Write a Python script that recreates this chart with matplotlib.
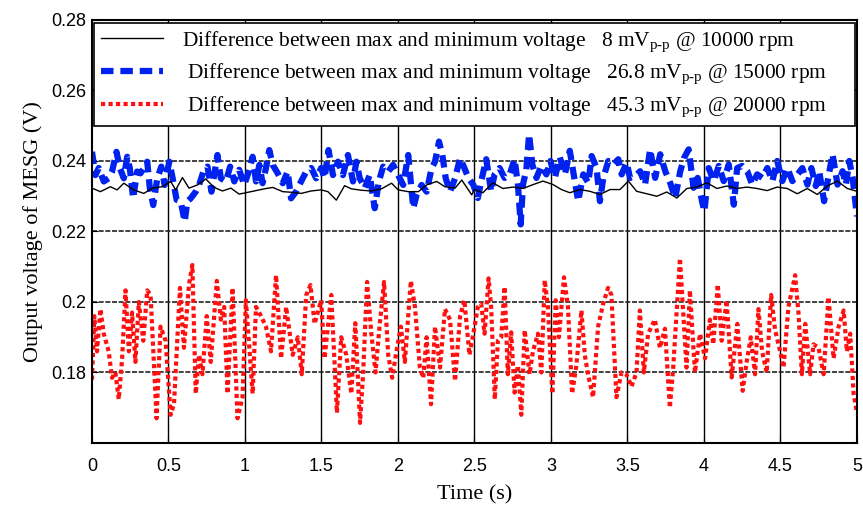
import matplotlib
matplotlib.use("Agg")
import matplotlib.pyplot as plt

plt.rcParams['mathtext.fontset'] = 'custom'
plt.rcParams['mathtext.rm'] = 'Liberation Serif'
plt.rcParams['mathtext.it'] = 'Liberation Serif:italic'

# ---- data ----
t_black = [0.000, 0.055, 0.120, 0.164, 0.208, 0.273, 0.339, 0.394, 0.459, 0.514,
           0.547, 0.591, 0.634, 0.689, 0.744, 0.798, 0.853, 0.908, 0.962, 1.017,
           1.061, 1.126, 1.181, 1.247, 1.312, 1.367, 1.433, 1.498, 1.542, 1.597,
           1.651, 1.695, 1.761, 1.826, 1.892, 1.958, 2.001, 2.067, 2.133, 2.187,
           2.253, 2.307, 2.373, 2.417, 2.482, 2.500, 2.555, 2.620, 2.686, 2.752,
           2.817, 2.883, 2.948, 3.014, 3.068, 3.123, 3.189, 3.254, 3.320, 3.386,
           3.451, 3.506, 3.560, 3.626, 3.692, 3.757, 3.823, 3.888, 3.953, 4.019,
           4.085, 4.150, 4.216, 4.281, 4.347, 4.413, 4.478, 4.544, 4.610, 4.675,
           4.741, 4.806, 4.872, 4.937, 5.000]
v_black = [0.2323, 0.2313, 0.2327, 0.2318, 0.2337, 0.2318, 0.2308, 0.2323, 0.2327, 0.2342,
           0.2318, 0.2353, 0.2323, 0.2332, 0.2349, 0.2325, 0.2315, 0.2323, 0.2306, 0.2311,
           0.2315, 0.2321, 0.2325, 0.2313, 0.2311, 0.2308, 0.2315, 0.2318, 0.2313, 0.2289,
           0.2330, 0.2321, 0.2317, 0.2315, 0.2321, 0.2337, 0.2318, 0.2313, 0.2313, 0.2332,
           0.2342, 0.2327, 0.2323, 0.2346, 0.2304, 0.2319, 0.2310, 0.2338, 0.2322, 0.2326,
           0.2322, 0.2333, 0.2343, 0.2333, 0.2319, 0.2310, 0.2319, 0.2314, 0.2305, 0.2319,
           0.2319, 0.2343, 0.2314, 0.2307, 0.2300, 0.2312, 0.2295, 0.2322, 0.2326, 0.2338,
           0.2322, 0.2329, 0.2322, 0.2326, 0.2322, 0.2316, 0.2326, 0.2322, 0.2307, 0.2322,
           0.2305, 0.2329, 0.2343, 0.2322, 0.2314]

t_blue = [0.000, 0.022, 0.044, 0.077, 0.109, 0.131, 0.160, 0.182, 0.208, 0.230,
          0.247, 0.269, 0.295, 0.317, 0.339, 0.361, 0.378, 0.400, 0.427, 0.453,
          0.475, 0.505, 0.525, 0.553, 0.580, 0.606, 0.623, 0.645, 0.678, 0.700,
          0.728, 0.755, 0.781, 0.820, 0.842, 0.875, 0.903, 0.930, 0.962, 0.995,
          1.017, 1.050, 1.072, 1.094, 1.115, 1.137, 1.159, 1.181, 1.214, 1.247,
          1.279, 1.301, 1.334, 1.367, 1.400, 1.433, 1.465, 1.498, 1.520, 1.546,
          1.575, 1.608, 1.640, 1.673, 1.706, 1.728, 1.750, 1.783, 1.815, 1.848,
          1.875, 1.903, 1.936, 1.968, 2.001, 2.034, 2.067, 2.100, 2.122, 2.154,
          2.187, 2.220, 2.242, 2.268, 2.290, 2.312, 2.340, 2.373, 2.406, 2.434,
          2.461, 2.493,
          2.522, 2.544, 2.577, 2.609, 2.631, 2.664, 2.697, 2.730, 2.762, 2.784,
          2.802, 2.817, 2.839, 2.857, 2.878, 2.905, 2.937, 2.970, 2.997, 3.025,
          3.058, 3.091, 3.123, 3.145, 3.178, 3.211, 3.244, 3.266, 3.298, 3.320,
          3.342, 3.375, 3.408, 3.440, 3.462, 3.495, 3.517, 3.550, 3.583, 3.615,
          3.648, 3.681, 3.714, 3.747, 3.779, 3.812, 3.845, 3.871, 3.900, 3.932,
          3.959, 3.987, 4.003, 4.031, 4.064, 4.097, 4.129, 4.162, 4.195, 4.217,
          4.250, 4.283, 4.315, 4.348, 4.381, 4.414, 4.447, 4.479, 4.512, 4.545,
          4.578, 4.611, 4.643, 4.676, 4.702, 4.731, 4.753, 4.785, 4.812, 4.840,
          4.873, 4.906, 4.928, 4.950, 4.972, 5.000]
v_blue = [0.2426, 0.2360, 0.2380, 0.2342, 0.2351, 0.2370, 0.2426, 0.2380, 0.2351, 0.2412,
          0.2380, 0.2294, 0.2370, 0.2365, 0.2380, 0.2398, 0.2323, 0.2275, 0.2351, 0.2384,
          0.2332, 0.2398, 0.2356, 0.2290, 0.2285, 0.2228, 0.2285, 0.2294, 0.2313, 0.2332,
          0.2370, 0.2384, 0.2313, 0.2417, 0.2351, 0.2342, 0.2384, 0.2342, 0.2375, 0.2332,
          0.2360, 0.2412, 0.2342, 0.2389, 0.2337, 0.2380, 0.2431, 0.2389, 0.2365, 0.2337,
          0.2370, 0.2294, 0.2313, 0.2342, 0.2370, 0.2380, 0.2351, 0.2380, 0.2351, 0.2431,
          0.2360, 0.2398, 0.2360, 0.2417, 0.2342, 0.2398, 0.2351, 0.2323, 0.2360, 0.2266,
          0.2342, 0.2384, 0.2370, 0.2389, 0.2360, 0.2332, 0.2417, 0.2266, 0.2304, 0.2332,
          0.2313, 0.2380, 0.2398, 0.2455, 0.2417, 0.2351, 0.2313, 0.2351, 0.2408, 0.2380,
          0.2351, 0.2332,
          0.2295, 0.2343, 0.2405, 0.2314, 0.2362, 0.2380, 0.2352, 0.2362, 0.2405, 0.2333,
          0.2220, 0.2333, 0.2376, 0.2476, 0.2390, 0.2352, 0.2386, 0.2362, 0.2400, 0.2352,
          0.2410, 0.2362, 0.2429, 0.2371, 0.2286, 0.2362, 0.2338, 0.2414, 0.2380, 0.2286,
          0.2352, 0.2400, 0.2390, 0.2405, 0.2362, 0.2395, 0.2352, 0.2357, 0.2371, 0.2333,
          0.2433, 0.2352, 0.2419, 0.2371, 0.2338, 0.2295, 0.2371, 0.2410, 0.2433, 0.2324,
          0.2352, 0.2286, 0.2257, 0.2380, 0.2343, 0.2386, 0.2343, 0.2390, 0.2276, 0.2380,
          0.2386, 0.2371, 0.2333, 0.2362, 0.2352, 0.2380, 0.2343, 0.2400, 0.2343, 0.2380,
          0.2343, 0.2362, 0.2380, 0.2333, 0.2380, 0.2329, 0.2371, 0.2286, 0.2352, 0.2419,
          0.2333, 0.2371, 0.2333, 0.2400, 0.2352, 0.2243]

t_red = [0.000, 0.015, 0.033, 0.055, 0.077, 0.109, 0.131, 0.153, 0.175, 0.197,
         0.219, 0.241, 0.262, 0.284, 0.306, 0.335, 0.361, 0.383, 0.422, 0.448,
         0.481, 0.514, 0.536, 0.575, 0.601, 0.634, 0.656, 0.678, 0.700, 0.722,
         0.750, 0.776, 0.816, 0.842, 0.864, 0.886, 0.919, 0.951, 0.984, 1.006,
         1.050, 1.072, 1.105, 1.137, 1.170, 1.203, 1.236, 1.269, 1.312, 1.345,
         1.371, 1.400, 1.428, 1.455, 1.498, 1.520, 1.564, 1.601, 1.629, 1.662,
         1.695, 1.721, 1.752, 1.772, 1.798, 1.826, 1.853, 1.881, 1.909, 1.936,
         1.962, 1.990, 2.019, 2.045, 2.084, 2.111, 2.143, 2.165, 2.187, 2.216,
         2.242, 2.275, 2.307, 2.340, 2.373, 2.406, 2.434, 2.467, 2.493,
         2.522, 2.544, 2.566, 2.592, 2.609, 2.633, 2.653, 2.675, 2.697, 2.718,
         2.740, 2.762, 2.784, 2.806, 2.828, 2.860, 2.882, 2.915, 2.937, 2.959,
         2.980, 3.009, 3.031, 3.052, 3.085, 3.111, 3.138, 3.166, 3.199, 3.221,
         3.242, 3.275, 3.308, 3.341, 3.373, 3.395, 3.428, 3.461, 3.493, 3.526,
         3.559, 3.581, 3.607, 3.635, 3.679, 3.712, 3.745, 3.777, 3.799, 3.843,
         3.886, 3.908, 3.941, 3.974, 4.007, 4.039, 4.061, 4.090, 4.116, 4.148,
         4.181, 4.218, 4.253, 4.279, 4.306, 4.334, 4.356, 4.380, 4.410, 4.439,
         4.465, 4.498, 4.520, 4.552, 4.596, 4.618, 4.640, 4.662, 4.694, 4.716,
         4.749, 4.782, 4.814, 4.847, 4.880, 4.913, 4.934, 4.956, 4.978, 5.000]
v_red = [0.1780, 0.1960, 0.1860, 0.1980, 0.1910, 0.1860, 0.1785, 0.1800, 0.1724, 0.1840,
         0.2033, 0.1860, 0.1970, 0.1830, 0.2000, 0.1890, 0.2033, 0.2020, 0.1670, 0.1930,
         0.1890, 0.1680, 0.1710, 0.2040, 0.1870, 0.2050, 0.2105, 0.1740, 0.1850, 0.1795,
         0.1960, 0.1830, 0.2060, 0.1950, 0.1986, 0.1740, 0.2040, 0.1670, 0.1730, 0.2005,
         0.1740, 0.1986, 0.1960, 0.1930, 0.1860, 0.2076, 0.1840, 0.1986, 0.1850, 0.1900,
         0.1795, 0.2019, 0.2048, 0.1938, 0.2005, 0.1840, 0.2020, 0.1686, 0.1900, 0.1850,
         0.1740, 0.1940, 0.1657, 0.1795, 0.2057, 0.1910, 0.1800, 0.1938, 0.2057, 0.1850,
         0.1785, 0.1860, 0.1930, 0.1830, 0.2060, 0.1986, 0.1814, 0.1785, 0.1900, 0.1710,
         0.1930, 0.1814, 0.1980, 0.1950, 0.1776, 0.1960, 0.2005, 0.1850, 0.1910,
         0.1986, 0.1995, 0.1910, 0.2067, 0.1986, 0.1724, 0.1890, 0.1900, 0.2043, 0.1795,
         0.1914, 0.1743, 0.1820, 0.1680, 0.1920, 0.1795, 0.1860, 0.1910, 0.1800, 0.2062,
         0.1986, 0.1740, 0.2005, 0.1900, 0.2070, 0.1986, 0.1740, 0.1820, 0.1976, 0.1850,
         0.1795, 0.1730, 0.1930, 0.1995, 0.2040, 0.2020, 0.1730, 0.1800, 0.1795, 0.1760,
         0.1800, 0.1976, 0.1800, 0.1910, 0.1950, 0.1870, 0.1924, 0.1700, 0.1814, 0.2124,
         0.1814, 0.2033, 0.1800, 0.1910, 0.1840, 0.1950, 0.1880, 0.2050, 0.1890, 0.2005,
         0.1786, 0.1938, 0.1748, 0.1830, 0.1900, 0.1795, 0.1980, 0.1860, 0.1800, 0.2020,
         0.1920, 0.1860, 0.1814, 0.1986, 0.2076, 0.1967, 0.1795, 0.1938, 0.1795, 0.1880,
         0.1870, 0.1795, 0.2014, 0.1840, 0.1930, 0.1976, 0.1860, 0.1910, 0.1740, 0.1686]

labels = [
    r"Difference between max and minimum voltage   8 mV$_{\mathrm{p\text{-}p}}$ @ 10000 rpm",
    r" Difference between max and minimum voltage   26.8 mV$_{\mathrm{p\text{-}p}}$ @ 15000 rpm",
    r" Difference between max and minimum voltage   45.3 mV$_{\mathrm{p\text{-}p}}$ @ 20000 rpm",
]
xticks = [0, 0.5, 1, 1.5, 2, 2.5, 3, 3.5, 4, 4.5, 5]
xticklabels = ["0", "0.5", "1", "1.5", "2", "2.5", "3", "3.5", "4", "4.5", "5"]
yticks = [0.18, 0.20, 0.22, 0.24, 0.26, 0.28]
yticklabels = ["0.18", "0.2", "0.22", "0.24", "0.26", "0.28"]

fig = plt.figure(figsize=(8.63, 5.15), dpi=100)
ax = fig.add_axes([0.1066, 0.1398, 0.8864, 0.8214])

# grid: solid vertical, fine dashed horizontal
for x in xticks[1:-1]:
    ax.axvline(x, color="black", lw=1.0, zorder=1)
for y in yticks[:-1]:
    ax.axhline(y, color="#222222", lw=1.2, ls=(0, (3, 1)), zorder=1)

ax.plot(t_black, v_black, color="black", lw=1.0, label=labels[0], zorder=3)
ax.plot(t_blue, v_blue, color="#0022ee", lw=4.5, ls=(0, (2.0, 1.1)),
        label=labels[1], zorder=2)
ax.plot(t_red, v_red, color="#ff1010", lw=3, ls=(0, (1, 0.8)),
        label=labels[2], zorder=2)

ax.set_xlim(0, 5)
ax.set_ylim(0.16, 0.28)
ax.set_xticks(xticks)
ax.set_xticklabels(xticklabels)
ax.set_yticks(yticks)
ax.set_yticklabels(yticklabels)
ax.tick_params(direction="in", length=4, labelsize=13)
ax.tick_params(axis="x", pad=11)
ax.tick_params(axis="y", pad=4)
for lab in ax.get_xticklabels() + ax.get_yticklabels():
    lab.set_family("Liberation Sans")
for s in ax.spines.values():
    s.set_linewidth(1.5)

ax.set_xlabel("Time (s)", family="Liberation Serif", fontsize=16, labelpad=7)
ax.set_ylabel("Output voltage of MESG (V)", family="Liberation Serif", fontsize=16, labelpad=6)

leg = ax.legend(loc="upper left", bbox_to_anchor=(0.003, 0.993, 0.994, 0.0),
                mode="expand", ncol=1, frameon=True,
                fancybox=False, edgecolor="black", framealpha=1,
                prop={"family": "Liberation Serif", "size": 15.4},
                handlelength=2.9, borderpad=0.3, labelspacing=0.38,
                borderaxespad=0.0, handletextpad=0.9)
leg.get_frame().set_linewidth(1.2)

fig.savefig("out.png", dpi=100)
